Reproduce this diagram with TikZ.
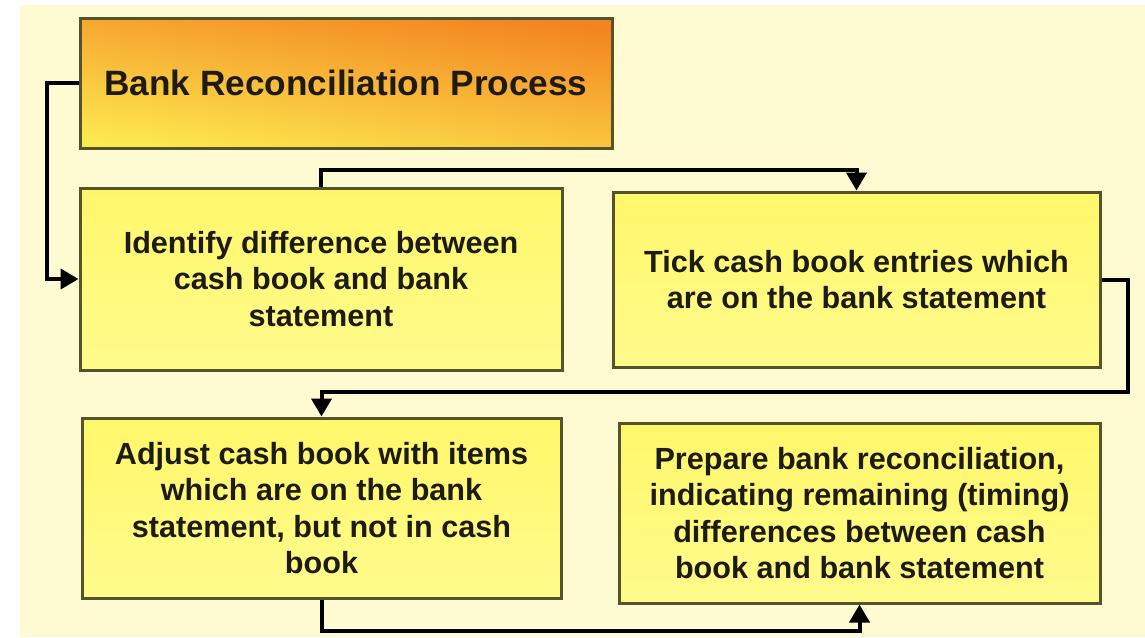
\documentclass[tikz,border=0pt]{standalone}
\usepackage{fontspec}
\setmainfont{Liberation Sans}
\usetikzlibrary{arrows.meta}

\definecolor{bgcream}{HTML}{FEFBD2}
\definecolor{boxedge}{HTML}{55532A}
\definecolor{boxtop}{HTML}{FFF76A}
\definecolor{boxbottom}{HTML}{FFFB8C}
\definecolor{ttlorange}{HTML}{F38420}
\definecolor{ttlyellow}{HTML}{FDE84E}
\definecolor{inkdark}{HTML}{1E1B14}

\begin{document}
\begin{tikzpicture}[x=0.5pt,y=-0.5pt,font=\bfseries\fontsize{15.3}{18.25}\selectfont]
\tikzset{
% Two box styles: the heading and the steps
title box/.style={draw=boxedge,line width=1.5pt,inner sep=0pt,top color=ttlorange,bottom color=ttlyellow,shading angle=-8,text=inkdark,font=\bfseries\fontsize{17.6}{22}\selectfont},
step box/.style={draw=boxedge,line width=1.5pt,inner sep=0pt,top color=boxtop,bottom color=boxbottom,align=center,text=inkdark}
}
% Arrows between the steps
\tikzstyle flow=[draw=black,line width=2pt,-{Triangle[length=9pt,width=10pt]}]
\useasboundingbox (0,0) rectangle (1145,637);
\fill[bgcream] (20,5) rectangle (1145,637);
% The boxes
\node(title)[title box,minimum width=266pt,minimum height=65pt] at (346,83) {Bank Reconciliation Process};
\node(ident)[step box,minimum width=241pt,minimum height=91pt] at (321,279) {Identify difference between\\cash book and bank\\statement};
\node(tick)[step box,minimum width=243.5pt,minimum height=87.5pt] at (856.5,279.5) {Tick cash book entries which\\are on the bank statement};
\node(adjust)[step box,minimum width=239.5pt,minimum height=90pt] at (321.5,508) {Adjust cash book with items\\which are on the bank\\statement, but not in cash\\book};
\node(prepare)[step box,minimum width=240.5pt,minimum height=90pt] at (859.5,513) {Prepare bank reconciliation,\\indicating remaining (timing)\\differences between cash\\book and bank statement};
% The connectors
\draw[flow] (title.west) -- ++(-32,0) |- (ident.west);
\draw[flow] (ident.north) -- ++(0,-17) -| (tick.north);
\draw[flow] (tick.east) -- ++(26,0) -- ++(0,112.5) -| (adjust.north);
\draw[flow] (adjust.south) -- ++(0,31) -| (prepare.south);
\end{tikzpicture}
\end{document}
